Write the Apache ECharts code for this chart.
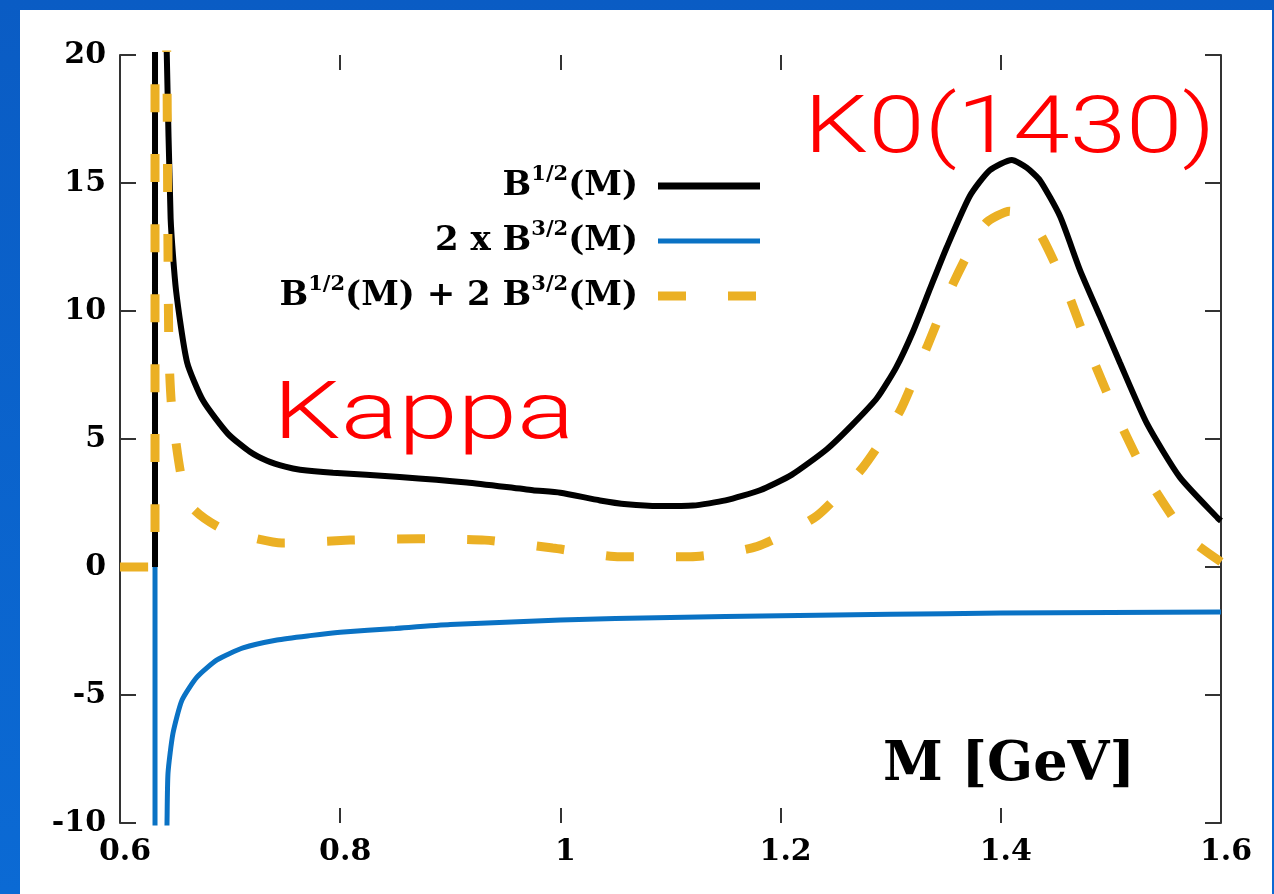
<!DOCTYPE html>
<html>
<head>
<meta charset="utf-8">
<script src="https://cdn.jsdelivr.net/npm/echarts@6/dist/echarts.min.js"></script>
<style>
html,body{margin:0;padding:0;width:1274px;height:894px;overflow:hidden;background:linear-gradient(180deg,#0a5cc4,#0b6ad4);}
#panel{position:absolute;left:20px;top:10px;width:1252px;height:884px;background:#fff;}
#chart{width:1252px;height:884px;}
</style>
</head>
<body>
<div id="panel"><div id="chart"></div></div>
<script>
// ---- data ----
const xTicks = [0.6, 0.8, 1.0, 1.2, 1.4, 1.6];
const yTicks = [-10, -5, 0, 5, 10, 15, 20];
const seriesNames = ['B1/2(M)', '2 x B3/2(M)', 'B1/2(M) + 2 B3/2(M)'];
const legendLabels = [
  '{t|B}{s|1/2}{t|(M)}',
  '{t|2 x B}{s|3/2}{t|(M)}',
  '{t|B}{s|1/2}{t|(M) + 2 B}{s|3/2}{t|(M)}'
];
const seriesColors = ['#000000', '#0a72c4', '#ebb024'];
const annotations = ['Kappa', 'K0(1430)'];
const axisTitle = 'M [GeV]';

// B^{1/2}(M)  [M, value]
const b12 = [
  [0.6318, 0], [0.6318, 40], [0.640, 24], [0.6425, 20], [0.646, 13.6], [0.6509, 10.8],
  [0.6609, 8.0], [0.6754, 6.5], [0.6981, 5.2], [0.718, 4.5], [0.7335, 4.15], [0.75, 3.92],
  [0.7635, 3.8], [0.7935, 3.68], [0.854, 3.52], [0.915, 3.3], [0.975, 3.0], [1.0, 2.9],
  [1.036, 2.6], [1.0605, 2.45], [1.09, 2.38], [1.1204, 2.4], [1.15, 2.6], [1.1813, 3.0],
  [1.21, 3.6], [1.242, 4.6], [1.265, 5.55], [1.2876, 6.6], [1.305, 7.8], [1.3203, 9.2],
  [1.336, 10.9], [1.351, 12.5], [1.372, 14.5], [1.39, 15.5], [1.41, 15.9], [1.4235, 15.6],
  [1.4356, 15.1], [1.4538, 13.7], [1.4719, 11.6], [1.49, 9.8], [1.508, 8.0], [1.5328, 5.6],
  [1.5627, 3.5], [1.5973, 1.9], [1.6, 1.8]
];
// 2 x B^{3/2}(M)
const b32x2 = [
  [0.6318, 0], [0.6318, -30], [0.6415, -13], [0.6427, -10], [0.6436, -8.05], [0.6481, -6.5],
  [0.6563, -5.2], [0.6699, -4.3], [0.6881, -3.63], [0.7117, -3.16], [0.7426, -2.85],
  [0.7726, -2.68], [0.8, -2.55], [0.85, -2.4], [0.9, -2.25], [1.0, -2.07], [1.1, -1.97],
  [1.2, -1.9], [1.3, -1.85], [1.4, -1.8], [1.5, -1.78], [1.6, -1.76]
];
// B^{1/2}(M) + 2 B^{3/2}(M)
const bSum = [
  [0.6, 0], [0.6318, 0], [0.6318, 40], [0.640, 24], [0.6425, 20], [0.6435, 12.9],
  [0.6445, 8.3], [0.647, 6.2], [0.6554, 3.6], [0.666, 2.3], [0.69, 1.55], [0.72, 1.15],
  [0.747, 0.94], [0.809, 1.05], [0.871, 1.1], [0.9315, 1.05], [0.993, 0.74], [1.054, 0.4],
  [1.118, 0.4], [1.1786, 0.8], [1.233, 2.0], [1.275, 3.9], [1.3085, 6.1], [1.333, 8.6],
  [1.357, 11.1], [1.3857, 13.4], [1.408, 13.9], [1.433, 13.2], [1.46, 10.8], [1.481, 8.4],
  [1.5055, 5.9], [1.533, 3.5], [1.569, 1.2], [1.6, 0.2]
];

const chart = echarts.init(document.getElementById('chart'), null, {renderer: 'canvas'});
const serifBold = {fontFamily: 'DejaVu Serif', fontWeight: 'bold', color: '#000'};
const axisLineStyle = {color: '#333', width: 2};

const xAxisBase = {
  type: 'value', min: xTicks[0], max: xTicks[xTicks.length - 1],
  interval: 0.2, splitLine: {show: false},
  axisLine: {show: false, onZero: false},
  axisTick: {show: true, inside: true, length: 15, lineStyle: axisLineStyle}
};
const yAxisBase = {
  type: 'value', min: yTicks[0], max: yTicks[yTicks.length - 1],
  interval: 5, splitLine: {show: false},
  axisLine: {show: true, onZero: false, lineStyle: axisLineStyle},
  axisTick: {show: true, inside: true, length: 16, lineStyle: axisLineStyle}
};

const legendRich = {
  t: {fontFamily: 'DejaVu Serif', fontWeight: 'bold', fontSize: 34, fill: '#000', lineHeight: 44},
  s: {fontFamily: 'DejaVu Serif', fontWeight: 'bold', fontSize: 21, fill: '#000', lineHeight: 24, verticalAlign: 'top'}
};
const legendRowY = [176, 231, 286];
const legendLineWidths = [7, 5, 9];
const legendGraphics = [];
seriesNames.forEach(function (n, i) {
  legendGraphics.push({
    type: 'text', x: 618, y: legendRowY[i], z: 20,
    style: {text: legendLabels[i], rich: legendRich, align: 'right', verticalAlign: 'middle'}
  });
  legendGraphics.push({
    type: 'line', z: 20,
    shape: {x1: 638, y1: legendRowY[i], x2: 740, y2: legendRowY[i]},
    style: {stroke: seriesColors[i], lineWidth: legendLineWidths[i], lineDash: i === 2 ? [28, 42] : null}
  });
});

const option = {
  animation: false,
  backgroundColor: '#fff',
  grid: {left: 100, top: 45, right: 51, bottom: 71, containLabel: false},
  xAxis: [
    Object.assign({}, xAxisBase, {position: 'bottom',
      axisLabel: Object.assign({fontSize: 30, margin: 14, padding: [0, 0, 0, 10]}, serifBold)}),
    Object.assign({}, xAxisBase, {position: 'top', axisLabel: {show: false}})
  ],
  yAxis: [
    Object.assign({}, yAxisBase, {position: 'left',
      axisLabel: Object.assign({fontSize: 30, margin: 14}, serifBold)}),
    Object.assign({}, yAxisBase, {position: 'right', axisLabel: {show: false}})
  ],
  series: [
    {name: seriesNames[0], type: 'line', data: b12, showSymbol: false, symbol: 'none', z: 2, smooth: 0.2,
     lineStyle: {color: seriesColors[0], width: 6}, itemStyle: {color: seriesColors[0]}},
    {name: seriesNames[1], type: 'line', data: b32x2, showSymbol: false, symbol: 'none', z: 3, smooth: 0.2,
     lineStyle: {color: seriesColors[1], width: 5}, itemStyle: {color: seriesColors[1]}},
    {name: seriesNames[2], type: 'line', data: bSum, showSymbol: false, symbol: 'none', z: 4, smooth: 0.2,
     lineStyle: {color: seriesColors[2], width: 9, type: [28, 42]}, itemStyle: {color: seriesColors[2]}}
  ],
  graphic: legendGraphics.concat([
    {type: 'text', x: 253, y: 408, scaleX: 1.34, z: 10,
     style: {x: 0, y: 0, text: annotations[0], fill: '#ff0000', fontFamily: 'Roboto', fontWeight: 300, fontSize: 80, verticalAlign: 'middle', align: 'left'}},
    {type: 'text', x: 784, y: 122, scaleX: 1.27, z: 10,
     style: {x: 0, y: 0, text: annotations[1], fill: '#ff0000', fontFamily: 'Roboto', fontWeight: 300, fontSize: 80, verticalAlign: 'middle', align: 'left'}},
    {type: 'text', x: 1115, y: 756, z: 10,
     style: {x: 0, y: 0, text: axisTitle, fill: '#000', fontFamily: 'DejaVu Serif', fontWeight: 'bold', fontSize: 54, verticalAlign: 'middle', align: 'right'}}
  ])
};
chart.setOption(option);
</script>
</body>
</html>
